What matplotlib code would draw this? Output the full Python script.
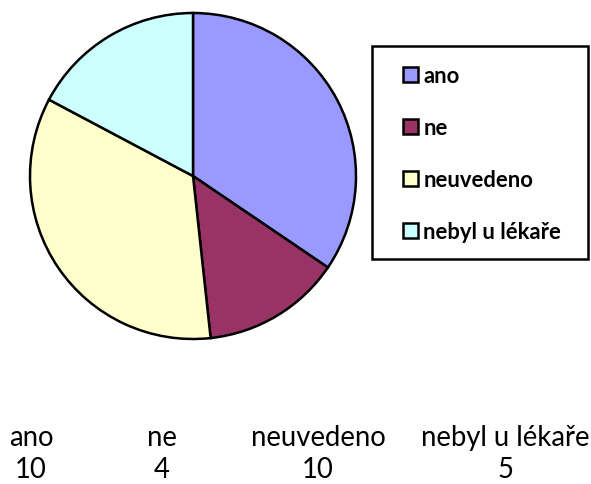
import matplotlib
matplotlib.use('Agg')
import matplotlib.pyplot as plt
from matplotlib.patches import Rectangle

plt.rcParams['font.family'] = ['Lato', 'DejaVu Sans']

labels = ['ano', 'ne', 'neuvedeno', 'nebyl u lékaře']
values = [10, 4, 10, 5]
colors = ['#9999FF', '#993366', '#FFFFCC', '#CCFFFF']

W, H = 591, 485
fig = plt.figure(figsize=(W / 100, H / 100), dpi=100)

# pie, centre (193, 177) px, radius 163 px
cx, cy, r = 193, 177, 163
ax = fig.add_axes([(cx - r) / W, (H - cy - r) / H, 2 * r / W, 2 * r / H])
wedges, _ = ax.pie(values, colors=colors, startangle=90, counterclock=False,
                   wedgeprops=dict(edgecolor='black', linewidth=1.8))
for w in wedges:
    w.set_clip_on(False)
ax.set_xlim(-1, 1)
ax.set_ylim(-1, 1)

# legend box
fig.patches.append(Rectangle((372 / W, (H - 260) / H), (588 - 372) / W, (260 - 47) / H,
                             transform=fig.transFigure, fill=False,
                             edgecolor='black', linewidth=1.8))
fig.legend(wedges, labels, loc='upper left', bbox_to_anchor=(392 / W, (H - 55) / H),
           frameon=False, prop=dict(weight='bold', size=15.8),
           handlelength=0.68, handleheight=0.68, handletextpad=0.25,
           labelspacing=1.42, borderpad=0)

# data table under the chart
col_x = [31, 162, 318, 505]
for x, lab, v in zip(col_x, labels, values):
    fig.text(x / W, (H - 446) / H, lab, ha='center', va='baseline', fontsize=19.8)
    fig.text(x / W, (H - 478) / H, str(v), ha='center', va='baseline', fontsize=19.8)

plt.savefig('out.png', dpi=100)
